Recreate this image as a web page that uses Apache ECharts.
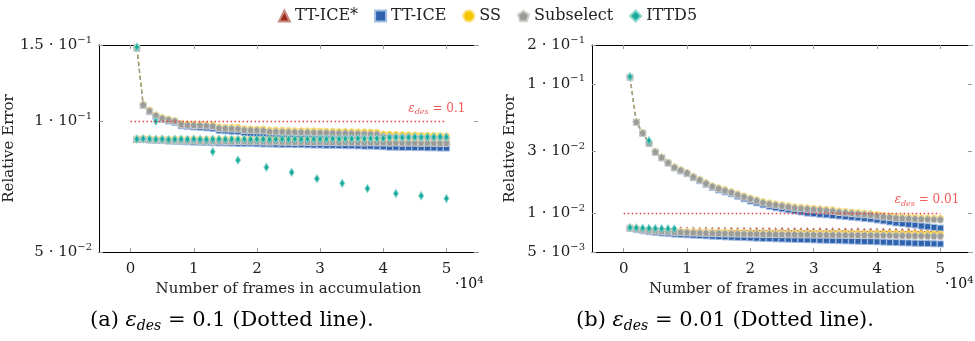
<!DOCTYPE html>
<html>
<head>
<meta charset="utf-8">
<script src="https://cdn.jsdelivr.net/npm/echarts@6/dist/echarts.min.js"></script>
<style>
  html, body { margin: 0; background: #fff; }
  #main { width: 975px; height: 341px; }
</style>
</head>
<body>
<div id="main"></div>
<script>
// frames in accumulation (shared x values)
const frames = [
  1000, 2000, 3000, 4000, 5000, 6000, 7000, 8000, 9000, 10000,
  11000, 12000, 13000, 14000, 15000, 16000, 17000, 18000, 19000, 20000,
  21000, 22000, 23000, 24000, 25000, 26000, 27000, 28000, 29000, 30000,
  31000, 32000, 33000, 34000, 35000, 36000, 37000, 38000, 39000, 40000,
  41000, 42000, 43000, 44000, 45000, 46000, 47000, 48000, 49000, 50000
]

// ---- (a) eps_des = 0.1 ----
const ssUpA = [
  0.1480, 0.1095, 0.1062, 0.1036, 0.1021, 0.1013, 0.1005, 0.0990, 0.0987, 0.0986,
  0.0985, 0.0983, 0.0982, 0.0972, 0.0970, 0.0969, 0.0969, 0.0962, 0.0961, 0.0960,
  0.0960, 0.0955, 0.0955, 0.0954, 0.0953, 0.0952, 0.0952, 0.0951, 0.0951, 0.0950,
  0.0949, 0.0949, 0.0948, 0.0948, 0.0947, 0.0946, 0.0946, 0.0945, 0.0944, 0.0935,
  0.0934, 0.0933, 0.0932, 0.0931, 0.0930, 0.0929, 0.0929, 0.0928, 0.0927, 0.0926
]
const subUpA = [
  0.1478, 0.1092, 0.1058, 0.1032, 0.1017, 0.1009, 0.1002, 0.0985, 0.0982, 0.0981,
  0.0980, 0.0978, 0.0976, 0.0966, 0.0964, 0.0963, 0.0962, 0.0956, 0.0955, 0.0954,
  0.0953, 0.0948, 0.0948, 0.0947, 0.0946, 0.0945, 0.0945, 0.0944, 0.0943, 0.0942,
  0.0942, 0.0941, 0.0940, 0.0940, 0.0939, 0.0938, 0.0937, 0.0936, 0.0935, 0.0925,
  0.0924, 0.0923, 0.0922, 0.0921, 0.0920, 0.0920, 0.0919, 0.0918, 0.0918, 0.0917
]
const iceUpA = [
  0.1475, 0.1088, 0.1053, 0.1027, 0.1011, 0.1002, 0.0994, 0.0977, 0.0973, 0.0971,
  0.0969, 0.0966, 0.0964, 0.0954, 0.0951, 0.0949, 0.0948, 0.0941, 0.0939, 0.0938,
  0.0936, 0.0931, 0.0930, 0.0928, 0.0927, 0.0925, 0.0924, 0.0922, 0.0921, 0.0920,
  0.0918, 0.0917, 0.0916, 0.0915, 0.0914, 0.0912, 0.0911, 0.0910, 0.0908, 0.0896,
  0.0894, 0.0893, 0.0892, 0.0891, 0.0890, 0.0889, 0.0889, 0.0888, 0.0887, 0.0886
]
const iceStarLowA = [
  0.0911, 0.0912, 0.0910, 0.0909, 0.0910, 0.0908, 0.0909, 0.0908, 0.0907, 0.0908,
  0.0907, 0.0907, 0.0906, 0.0907, 0.0906, 0.0906, 0.0905, 0.0906, 0.0905, 0.0905,
  0.0905, 0.0904, 0.0905, 0.0904, 0.0904, 0.0904, 0.0903, 0.0904, 0.0903, 0.0903,
  0.0903, 0.0903, 0.0902, 0.0903, 0.0902, 0.0902, 0.0902, 0.0902, 0.0901, 0.0902,
  0.0901, 0.0901, 0.0901, 0.0901, 0.0900, 0.0901, 0.0900, 0.0900, 0.0900, 0.0900
]
const iceLowA = [
  0.0909, 0.0908, 0.0906, 0.0904, 0.0903, 0.0901, 0.0900, 0.0898, 0.0897, 0.0896,
  0.0895, 0.0894, 0.0893, 0.0892, 0.0892, 0.0891, 0.0890, 0.0889, 0.0889, 0.0888,
  0.0887, 0.0887, 0.0886, 0.0885, 0.0885, 0.0884, 0.0884, 0.0883, 0.0882, 0.0882,
  0.0881, 0.0881, 0.0880, 0.0879, 0.0879, 0.0878, 0.0877, 0.0877, 0.0876, 0.0874,
  0.0872, 0.0872, 0.0871, 0.0871, 0.0870, 0.0870, 0.0869, 0.0869, 0.0868, 0.0868
]
const ssLowA = [
  0.0913, 0.0914, 0.0912, 0.0911, 0.0912, 0.0910, 0.0911, 0.0910, 0.0910, 0.0911,
  0.0910, 0.0909, 0.0910, 0.0909, 0.0909, 0.0910, 0.0909, 0.0908, 0.0909, 0.0908,
  0.0908, 0.0909, 0.0908, 0.0907, 0.0908, 0.0907, 0.0907, 0.0908, 0.0907, 0.0906,
  0.0907, 0.0906, 0.0906, 0.0907, 0.0906, 0.0905, 0.0906, 0.0905, 0.0905, 0.0906,
  0.0905, 0.0904, 0.0905, 0.0904, 0.0904, 0.0905, 0.0904, 0.0904, 0.0903, 0.0904
]
const subLowA = [
  0.0910, 0.0911, 0.0909, 0.0906, 0.0908, 0.0903, 0.0905, 0.0904, 0.0903, 0.0904,
  0.0902, 0.0902, 0.0901, 0.0902, 0.0901, 0.0900, 0.0901, 0.0900, 0.0899, 0.0900,
  0.0899, 0.0898, 0.0899, 0.0898, 0.0898, 0.0897, 0.0898, 0.0897, 0.0896, 0.0897,
  0.0896, 0.0896, 0.0895, 0.0896, 0.0895, 0.0895, 0.0894, 0.0895, 0.0894, 0.0894,
  0.0893, 0.0894, 0.0893, 0.0893, 0.0893, 0.0892, 0.0893, 0.0892, 0.0892, 0.0892
]
const ittdLowA = [
  0.0910, 0.0912, 0.0911, 0.0909, 0.0910, 0.0908, 0.0909, 0.0910, 0.0909, 0.0910,
  0.0909, 0.0908, 0.0909, 0.0910, 0.0909, 0.0910, 0.0909, 0.0910, 0.0909, 0.0910,
  0.0910, 0.0909, 0.0910, 0.0911, 0.0910, 0.0911, 0.0910, 0.0911, 0.0910, 0.0911,
  0.0911, 0.0912, 0.0911, 0.0912, 0.0912, 0.0913, 0.0912, 0.0913, 0.0913, 0.0914,
  0.0918, 0.0919, 0.0918, 0.0919, 0.0920, 0.0919, 0.0920, 0.0920, 0.0921, 0.0920
]
const ittdSparseXA = [1000, 4000, 13000, 17000, 21500, 25500, 29500, 33500, 37500, 42000, 46000, 50000]
const ittdSparseA = [0.1484, 0.1001, 0.0851, 0.0814, 0.0784, 0.0763, 0.0738, 0.0720, 0.0700, 0.0682, 0.0674, 0.0664]

// ---- (b) eps_des = 0.01 ----
const ssUpB = [
  0.1130, 0.0510, 0.0420, 0.0350, 0.0300, 0.0272, 0.0248, 0.0228, 0.0217, 0.0207,
  0.0193, 0.0183, 0.0172, 0.0163, 0.0157, 0.0152, 0.0147, 0.0141, 0.0136, 0.0131,
  0.0127, 0.0123, 0.0120, 0.0118, 0.0116, 0.0114, 0.0112, 0.0111, 0.0110, 0.0109,
  0.0108, 0.0107, 0.0106, 0.0104, 0.0103, 0.0102, 0.0101, 0.0100, 0.00990, 0.00975,
  0.00960, 0.00950, 0.00940, 0.00935, 0.00930, 0.00925, 0.00920, 0.00918, 0.00915, 0.00912
]
const subUpB = [
  0.1128, 0.0508, 0.0418, 0.0348, 0.0298, 0.0270, 0.0246, 0.0226, 0.0215, 0.0205,
  0.0191, 0.0181, 0.0170, 0.0161, 0.0155, 0.0150, 0.0145, 0.0139, 0.0134, 0.0129,
  0.0125, 0.0121, 0.0118, 0.0116, 0.0114, 0.0112, 0.0110, 0.0109, 0.0108, 0.0107,
  0.0106, 0.0105, 0.0104, 0.0102, 0.0101, 0.0100, 0.00990, 0.00980, 0.00970, 0.00955,
  0.00940, 0.00930, 0.00920, 0.00915, 0.00910, 0.00905, 0.00900, 0.00898, 0.00895, 0.00892
]
const iceUpB = [
  0.1125, 0.0505, 0.0415, 0.0345, 0.0296, 0.0268, 0.0244, 0.0224, 0.0212, 0.0202,
  0.0188, 0.0178, 0.0167, 0.0158, 0.0151, 0.0146, 0.0141, 0.0135, 0.0129, 0.0124,
  0.0120, 0.0116, 0.0113, 0.0110, 0.0108, 0.0106, 0.0104, 0.0102, 0.0100, 0.0099,
  0.0098, 0.0097, 0.0096, 0.0095, 0.0094, 0.0093, 0.0092, 0.0091, 0.0090, 0.00885,
  0.00870, 0.00855, 0.00840, 0.00830, 0.00820, 0.00810, 0.00795, 0.00785, 0.00775, 0.00765
]
const iceStarLowB = [
  0.00775, 0.00768, 0.00760, 0.00752, 0.00748, 0.00742, 0.00740, 0.00736, 0.00738, 0.00733,
  0.00736, 0.00731, 0.00734, 0.00730, 0.00733, 0.00729, 0.00732, 0.00728, 0.00731, 0.00727,
  0.00730, 0.00727, 0.00729, 0.00726, 0.00729, 0.00725, 0.00728, 0.00724, 0.00727, 0.00723,
  0.00726, 0.00722, 0.00725, 0.00721, 0.00724, 0.00720, 0.00723, 0.00719, 0.00722, 0.00718,
  0.00721, 0.00717, 0.00720, 0.00716, 0.00719, 0.00715, 0.00718, 0.00714, 0.00717, 0.00714
]
const ssLowB = [
  0.00772, 0.00762, 0.00752, 0.00744, 0.00738, 0.00733, 0.00729, 0.00725, 0.00722, 0.00720,
  0.00718, 0.00716, 0.00714, 0.00712, 0.00711, 0.00710, 0.00709, 0.00708, 0.00707, 0.00706,
  0.00705, 0.00705, 0.00704, 0.00703, 0.00703, 0.00702, 0.00702, 0.00701, 0.00701, 0.00700,
  0.00700, 0.00699, 0.00699, 0.00698, 0.00698, 0.00697, 0.00697, 0.00696, 0.00696, 0.00695,
  0.00695, 0.00694, 0.00694, 0.00693, 0.00693, 0.00692, 0.00692, 0.00691, 0.00691, 0.00690
]
const subLowB = [
  0.00770, 0.00758, 0.00747, 0.00738, 0.00731, 0.00725, 0.00720, 0.00716, 0.00713, 0.00710,
  0.00707, 0.00705, 0.00703, 0.00701, 0.00699, 0.00697, 0.00696, 0.00694, 0.00693, 0.00692,
  0.00691, 0.00690, 0.00689, 0.00688, 0.00687, 0.00686, 0.00685, 0.00684, 0.00683, 0.00682,
  0.00681, 0.00681, 0.00680, 0.00679, 0.00678, 0.00678, 0.00677, 0.00676, 0.00676, 0.00675,
  0.00674, 0.00673, 0.00672, 0.00671, 0.00670, 0.00669, 0.00668, 0.00667, 0.00666, 0.00665
]
const iceLowB = [
  0.00765, 0.00745, 0.00730, 0.00718, 0.00709, 0.00701, 0.00694, 0.00688, 0.00683, 0.00679,
  0.00675, 0.00671, 0.00667, 0.00663, 0.00659, 0.00655, 0.00652, 0.00649, 0.00646, 0.00643,
  0.00640, 0.00637, 0.00635, 0.00632, 0.00630, 0.00628, 0.00626, 0.00624, 0.00622, 0.00620,
  0.00618, 0.00616, 0.00614, 0.00612, 0.00610, 0.00608, 0.00606, 0.00604, 0.00602, 0.00600,
  0.00597, 0.00594, 0.00591, 0.00589, 0.00587, 0.00585, 0.00583, 0.00581, 0.00579, 0.00577
]
const ittdLowXB = [1000, 2000, 3000, 4000, 5000, 6000, 7000, 8000]
const ittdLowB = [0.00772, 0.00768, 0.00764, 0.00762, 0.00760, 0.00758, 0.00756, 0.00755]
const ittdSparseXB = [1000, 4000]
const ittdSparseB = [0.1137, 0.0363]

// ticks
const xTicks = [0, 10000, 20000, 30000, 40000, 50000]
const yTicksA = [0.05, 0.1, 0.15]
const yMantA = ['5', '1', '1.5']
const yExpA = ['−2', '−1', '−1']
const yTicksB = [0.005, 0.01, 0.03, 0.1, 0.2]
const yMantB = ['5', '1', '3', '1', '2']
const yExpB = ['−3', '−2', '−2', '−1', '−1']
const epsA = 0.1
const epsB = 0.01

const FONT = 'DejaVu Serif'
const pentagon = 'path://M0,-10 L9.5,-3.1 L5.9,8.1 L-5.9,8.1 L-9.5,-3.1 Z'
const style = {
  'TT-ICE*': { color: '#9b2d20', edge: '#c98a80', symbol: 'triangle', size: 7 },
  'TT-ICE': { color: '#2f62ad', edge: '#a3bce3', symbol: 'rect', size: 6 },
  'SS': { color: '#f6c500', edge: '#fbe07a', symbol: 'circle', size: 6 },
  'Subselect': { color: '#9b9b97', edge: '#cfcfcb', symbol: pentagon, size: 7 },
  'ITTD5': { color: '#16a99c', edge: '#86d5cd', symbol: 'diamond', size: [5, 8] }
}

function pts(xs, ys) {
  return xs.map((x, i) => [x, ys[i]])
}

// line: 'dashed' | 'solid' | 'none'
function mk(name, g, xs, ys, line) {
  const s = style[name]
  return {
    name: name,
    type: 'line',
    xAxisIndex: g * 2,
    yAxisIndex: g * 2,
    data: pts(xs, ys),
    symbol: s.symbol,
    symbolSize: s.size,
    showAllSymbol: true,
    itemStyle: { color: s.color, borderColor: s.edge, borderWidth: 1 },
    lineStyle: {
      color: s.color,
      width: line === 'none' ? 0 : 1.3,
      type: line === 'dashed' ? [4, 3] : 'solid',
      opacity: line === 'none' ? 0 : 0.9
    },
    emphasis: { disabled: true },
    z: 3
  }
}

function tickText(ticks, mant, exp) {
  return function (v) {
    for (let i = 0; i < ticks.length; i++) {
      if (Math.abs(v - ticks[i]) < ticks[i] * 1e-6) return '{m|' + mant[i] + ' · 10}{p|' + exp[i] + '}'
    }
    return ''
  }
}

const richTick = {
  m: { fontFamily: FONT, fontSize: 15, color: '#222', lineHeight: 20 },
  p: { fontFamily: FONT, fontSize: 10, color: '#222', verticalAlign: 'top', lineHeight: 20 }
}

function xAxes(g) {
  const base = {
    type: 'value', gridIndex: g, min: -5000, max: 55000,
    splitLine: { show: false },
    axisLine: { show: true, onZero: false, lineStyle: { color: '#000', width: 1 } },
    axisTick: { show: true, inside: true, length: 4, customValues: xTicks, lineStyle: { color: '#999' } }
  }
  return [
    Object.assign({}, base, {
      position: 'bottom',
      name: 'Number of frames in accumulation',
      nameLocation: 'middle',
      nameGap: 24,
      nameTextStyle: { fontFamily: FONT, fontSize: 15, color: '#222' },
      axisLabel: { customValues: xTicks, formatter: v => String(v / 10000), fontFamily: FONT, fontSize: 15, color: '#222', margin: 10 }
    }),
    Object.assign({}, base, { position: 'top', axisLabel: { show: false } })
  ]
}

function yAxes(g, min, max, ticks, mant, exp) {
  const base = {
    type: 'log', logBase: 10, gridIndex: g, min: min, max: max,
    splitLine: { show: false },
    minorTick: { show: false },
    axisTick: { show: true, inside: true, length: 4, customValues: ticks, lineStyle: { color: '#999' } }
  }
  return [
    Object.assign({}, base, {
      position: 'left',
      name: 'Relative Error',
      nameLocation: 'middle',
      nameGap: 74,
      nameTextStyle: { fontFamily: FONT, fontSize: 15, color: '#222' },
      axisLine: { show: true, onZero: false, lineStyle: { color: '#000', width: 1 } },
      axisLabel: { customValues: ticks, formatter: tickText(ticks, mant, exp), rich: richTick, margin: 7 }
    }),
    Object.assign({}, base, { position: 'right', axisLine: { show: false, onZero: false }, axisLabel: { show: false } })
  ]
}

function epsLine(value, text) {
  return {
    silent: true,
    symbol: 'none',
    lineStyle: { color: '#ee3b3b', type: [1.5, 2.5], width: 1.3 },
    label: {
      show: true,
      position: 'insideEndTop',
      offset: [24, 0],
      formatter: '{e|ε}{s|des}{n| = ' + text + '}',
      rich: {
        e: { fontFamily: FONT, fontStyle: 'italic', fontSize: 12, color: '#f05a5a', lineHeight: 16 },
        s: { fontFamily: FONT, fontStyle: 'italic', fontSize: 8, color: '#f05a5a', verticalAlign: 'bottom', lineHeight: 16 },
        n: { fontFamily: FONT, fontSize: 12, color: '#f05a5a', lineHeight: 16 }
      }
    },
    data: [[{ coord: [0, value] }, { coord: [50000, value] }]]
  }
}

const seriesA = [
  mk('TT-ICE*', 0, frames, iceStarLowA, 'solid'),
  mk('TT-ICE', 0, frames, iceUpA, 'dashed'),
  mk('TT-ICE', 0, frames, iceLowA, 'solid'),
  mk('SS', 0, frames, ssUpA, 'dashed'),
  mk('SS', 0, frames, ssLowA, 'solid'),
  mk('Subselect', 0, frames, subUpA, 'dashed'),
  mk('Subselect', 0, frames, subLowA, 'solid'),
  mk('ITTD5', 0, frames, ittdLowA, 'solid'),
  mk('ITTD5', 0, ittdSparseXA, ittdSparseA, 'none')
]
seriesA[0].markLine = epsLine(epsA, '0.1')

const seriesB = [
  mk('TT-ICE*', 1, frames, iceStarLowB, 'solid'),
  mk('TT-ICE', 1, frames, iceUpB, 'dashed'),
  mk('TT-ICE', 1, frames, iceLowB, 'solid'),
  mk('SS', 1, frames, ssUpB, 'dashed'),
  mk('SS', 1, frames, ssLowB, 'solid'),
  mk('Subselect', 1, frames, subUpB, 'dashed'),
  mk('Subselect', 1, frames, subLowB, 'solid'),
  mk('ITTD5', 1, ittdLowXB, ittdLowB, 'solid'),
  mk('ITTD5', 1, ittdSparseXB, ittdSparseB, 'none')
]
seriesB[0].markLine = epsLine(epsB, '0.01')

const capRich = {
  t: { fontFamily: FONT, fontSize: 21, color: '#222', lineHeight: 26 },
  e: { fontFamily: FONT, fontStyle: 'italic', fontSize: 21, color: '#222', lineHeight: 26 },
  s: { fontFamily: FONT, fontStyle: 'italic', fontSize: 14, color: '#222', verticalAlign: 'bottom', lineHeight: 24 }
}
const powRich = {
  t: { fontFamily: FONT, fontSize: 14, color: '#222', lineHeight: 18 },
  p: { fontFamily: FONT, fontSize: 10, color: '#222', verticalAlign: 'top', lineHeight: 18 }
}

const myChart = echarts.init(document.getElementById('main'), null, { renderer: 'canvas' })
const option = {
  animation: false,
  backgroundColor: '#fff',
  legend: {
    top: 3,
    left: 'center',
    itemWidth: 11,
    itemHeight: 11,
    itemGap: 16,
    textStyle: { fontFamily: FONT, fontSize: 16, color: '#222' },
    data: [
      { name: 'TT-ICE*', icon: 'triangle' },
      { name: 'TT-ICE', icon: 'rect' },
      { name: 'SS', icon: 'circle' },
      { name: 'Subselect', icon: pentagon },
      { name: 'ITTD5', icon: 'diamond' }
    ]
  },
  grid: [
    { left: 99, top: 45, width: 379, height: 207 },
    { left: 592, top: 45, width: 380, height: 207 }
  ],
  xAxis: xAxes(0).concat(xAxes(1)),
  yAxis: yAxes(0, 0.05, 0.15, yTicksA, yMantA, yExpA).concat(yAxes(1, 0.005, 0.2, yTicksB, yMantB, yExpB)),
  series: seriesA.concat(seriesB),
  graphic: [
    { type: 'text', left: 455, top: 275, style: { text: '{t|·10}{p|4}', rich: powRich } },
    { type: 'text', left: 945, top: 275, style: { text: '{t|·10}{p|4}', rich: powRich } },
    { type: 'text', left: 90, top: 310, style: { text: '{t|(a) }{e|ε}{s|des}{t| = 0.1 (Dotted line).}', rich: capRich } },
    { type: 'text', left: 576, top: 310, style: { text: '{t|(b) }{e|ε}{s|des}{t| = 0.01 (Dotted line).}', rich: capRich } }
  ]
}
myChart.setOption(option)
</script>
</body>
</html>
